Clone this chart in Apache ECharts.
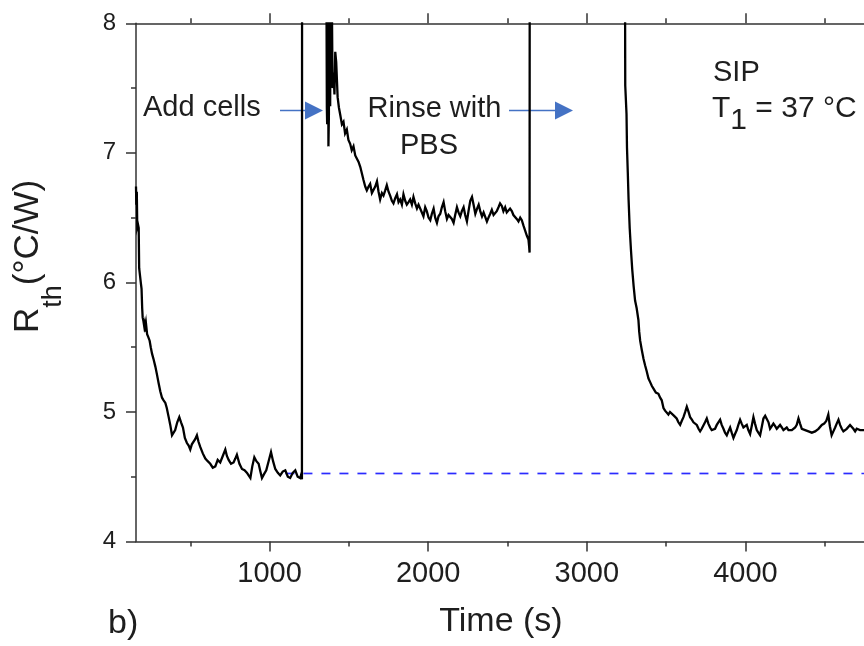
<!DOCTYPE html>
<html><head><meta charset="utf-8">
<script src="https://cdn.jsdelivr.net/npm/echarts@6/dist/echarts.min.js"></script>
<style>html,body{margin:0;padding:0;background:#fff}#c{width:864px;height:646px}</style>
</head><body><div id="c"></div>
<script>
// Time (s) and thermal resistance R_th (°C/W); values above 8 are off the plot (clipped at the top)
const timeS = [
158,160,163,166,170,175,178,183,189,193,197,200,205,210,213,218,222,228,235,244,251,259,268,280,290,301,311,322,332,343,352,364,374,385,395,405,418,431,442,454,466,479,490,500,510,521,531,542,552,563,579,595,610,626,642,658,673,689,705,721,731,742,757,773,784,794,810,826,842,858,868,879,891,904,917,931,942,952,965,979,994,1009,1022,1036,1052,1067,1083,1099,1115,1130,1146,1162,1177,1193,1200,1204,1205,
1356,1361,1363,1367,1371,1374,1378,1382,1386,1395,1397,1403,1409,1414,1420,1425,1429,1437,1446,1456,1466,1476,1487,1497,1508,1518,1529,1540,1551,1561,1572,1582,1592,1603,1613,1624,1634,1645,1655,1666,1677,1687,1697,1708,1718,1729,1739,1750,1760,1771,1781,1792,1803,1813,1823,1834,1844,1855,1865,1876,1886,1897,1907,1918,1929,1939,1950,1960,1970,1981,1991,2002,2013,2023,2034,2044,2055,2065,2076,2086,2097,2107,2118,2128,2139,2149,2160,2170,2181,2191,2202,2212,2223,2233,2244,2254,2265,2276,2286,2297,2308,2318,2328,2339,2349,2359,2370,2380,2391,2401,2412,2422,2432,2443,2453,2464,2474,2485,2495,2506,2516,2527,2537,2548,2558,2569,2580,2590,2600,2611,2622,2632,2636,2639,2640,
3239,3242,3250,3253,3258,3263,3270,3278,3286,3295,3304,3314,3325,3330,3336,3346,3357,3367,3378,3388,3399,3410,3420,3435,3451,3462,3472,3483,3493,3503,3514,3524,3535,3550,3566,3577,3588,3598,3609,3620,3630,3641,3651,3662,3672,3683,3693,3704,3714,3724,3735,3745,3756,3766,3777,3787,3798,3808,3819,3829,3840,3850,3861,3871,3882,3892,3903,3913,3924,3934,3945,3955,3966,3976,3987,3997,4008,4018,4029,4039,4050,4060,4071,4081,4092,4102,4113,4124,4135,4145,4155,4166,4176,4187,4197,4208,4218,4229,4239,4250,4260,4271,4281,4292,4302,4313,4323,4334,4344,4355,4365,4376,4386,4397,4407,4418,4428,4439,4449,4460,4470,4481,4496,4509,4522,4532,4543,4554,4565,4575,4586,4596,4607,4617,4628,4638,4649,4659,4670,4680,4691,4701,4712,4722,4733,4747
];
const rth = [
6.74,6.60,6.70,6.43,6.45,6.42,6.11,6.12,5.99,5.95,5.80,5.73,5.70,5.66,5.68,5.62,5.67,5.60,5.58,5.55,5.50,5.45,5.41,5.35,5.29,5.22,5.16,5.11,5.09,5.07,5.03,4.96,4.90,4.82,4.84,4.86,4.92,4.96,4.92,4.88,4.80,4.76,4.74,4.71,4.75,4.74,4.79,4.82,4.77,4.73,4.68,4.64,4.62,4.60,4.57,4.58,4.63,4.61,4.66,4.71,4.66,4.63,4.60,4.61,4.64,4.67,4.60,4.56,4.55,4.53,4.51,4.49,4.58,4.65,4.62,4.60,4.54,4.49,4.52,4.55,4.62,4.69,4.62,4.56,4.53,4.51,4.54,4.55,4.50,4.49,4.53,4.55,4.50,4.49,4.52,4.48,9.2,
9.2,7.35,7.22,9.2,7.05,7.30,9.2,7.36,9.2,9.2,7.50,7.62,7.45,7.78,7.70,7.55,7.43,7.35,7.29,7.22,7.24,7.15,7.18,7.10,7.07,7.02,7.05,6.98,6.97,6.93,6.89,6.84,6.79,6.74,6.71,6.74,6.76,6.69,6.70,6.74,6.78,6.70,6.64,6.69,6.67,6.71,6.75,6.70,6.67,6.63,6.61,6.65,6.68,6.62,6.64,6.60,6.68,6.63,6.60,6.62,6.64,6.60,6.66,6.61,6.57,6.60,6.61,6.54,6.51,6.58,6.55,6.50,6.48,6.53,6.57,6.50,6.46,6.51,6.53,6.58,6.62,6.55,6.49,6.52,6.53,6.49,6.46,6.52,6.58,6.54,6.51,6.55,6.58,6.52,6.47,6.55,6.63,6.66,6.60,6.53,6.57,6.60,6.55,6.51,6.54,6.53,6.47,6.50,6.53,6.56,6.52,6.51,6.55,6.58,6.61,6.59,6.55,6.58,6.54,6.53,6.57,6.55,6.52,6.51,6.49,6.47,6.50,6.48,6.44,6.40,6.36,6.33,6.28,6.23,9.2,
9.2,7.52,7.30,7.04,6.85,6.64,6.42,6.25,6.10,5.97,5.86,5.80,5.71,5.62,5.55,5.48,5.41,5.36,5.31,5.26,5.23,5.20,5.18,5.15,5.14,5.11,5.09,5.03,5.01,5.02,4.98,5.00,5.01,4.97,4.95,4.92,4.90,4.93,4.96,5.00,5.04,5.00,4.96,4.94,4.92,4.91,4.90,4.87,4.85,4.87,4.87,4.92,4.95,4.91,4.88,4.86,4.85,4.87,4.90,4.92,4.94,4.90,4.87,4.84,4.82,4.85,4.88,4.84,4.80,4.83,4.86,4.90,4.94,4.91,4.88,4.89,4.90,4.86,4.83,4.89,4.96,4.91,4.86,4.84,4.82,4.88,4.95,4.97,4.98,4.92,4.87,4.89,4.91,4.89,4.87,4.88,4.90,4.88,4.86,4.87,4.88,4.86,4.85,4.86,4.87,4.88,4.90,4.95,4.91,4.87,4.88,4.86,4.87,4.85,4.85,4.84,4.83,4.85,4.86,4.87,4.88,4.90,4.91,4.93,4.98,4.89,4.82,4.85,4.88,4.91,4.94,4.90,4.87,4.85,4.86,4.87,4.88,4.90,4.90,4.87,4.85,4.87,4.88,4.86,4.87,4.86
];
// Reference level (blue dashed line)
const baseT = [1100, 4747];
const baseV = [4.525, 4.525];
// Axis ticks
const xMajor = [1000, 2000, 3000, 4000];
const xMinor = [500, 1500, 2500, 3500, 4500];
const xMin = 158, xMax = 4747;
const yMin = 4, yMax = 8;

const FONT = "'Liberation Sans', Arial, sans-serif";
const AX = '#333';
const TXT = '#1e1e1e';

function xAx(pos, ticks, len, line, labels) {
  return {
    type: 'value', position: pos, min: xMin, max: xMax,
    axisLine: { show: line, onZero: false, lineStyle: { color: AX, width: 1.5 } },
    axisTick: { show: true, inside: false, customValues: ticks, length: len, lineStyle: { color: AX, width: 1.5 } },
    axisLabel: labels ? { show: true, customValues: ticks, fontSize: 29, color: TXT, fontFamily: FONT, margin: 18,
      formatter: v => String(v) } : { show: false },
    splitLine: { show: false }
  };
}

const chart = echarts.init(document.getElementById('c'), null, { renderer: 'canvas' });
chart.setOption({
  animation: false,
  backgroundColor: '#fff',
  grid: { left: 136, right: 0, top: 23.3, bottom: 104.5, containLabel: false },
  xAxis: [
    xAx('bottom', xMajor, 10, true, true),
    xAx('bottom', xMinor, 5, false, false),
    xAx('top', xMajor, 10, true, false),
    xAx('top', xMinor, 5, false, false)
  ],
  yAxis: [{
    type: 'value', position: 'left', min: yMin, max: yMax, interval: 1,
    axisLine: { show: true, onZero: false, lineStyle: { color: AX, width: 1.5 } },
    axisTick: { show: true, length: 10, lineStyle: { color: AX, width: 1.5 } },
    minorTick: { show: true, splitNumber: 2, length: 5, lineStyle: { color: AX, width: 1.5 } },
    axisLabel: { fontSize: 24, color: TXT, fontFamily: FONT, margin: 20 },
    splitLine: { show: false }, minorSplitLine: { show: false }
  }],
  series: [
    {
      type: 'line', xAxisIndex: 0, yAxisIndex: 0, symbol: 'none', silent: true,
      data: baseT.map((t, i) => [t, baseV[i]]),
      lineStyle: { color: '#2b2bff', width: 1.7, type: [9, 9] }
    },
    {
      type: 'line', xAxisIndex: 0, yAxisIndex: 0, symbol: 'none', clip: true, silent: true,
      data: timeS.map((t, i) => [t, rth[i]]),
      lineStyle: { color: '#000', width: 2.3, join: 'miter' }
    }
  ],
  graphic: [
    { type: 'text', x: 11, y: 256.5, rotation: Math.PI / 2,
      style: { text: '{a|R}{b|th}{a|(°C/W)}', align: 'center', verticalAlign: 'top', fill: TXT,
        rich: {
          a: { fontSize: 35, fontFamily: FONT, lineHeight: 35, verticalAlign: 'top', fill: TXT },
          b: { fontSize: 27, fontFamily: FONT, lineHeight: 56, verticalAlign: 'bottom', fill: TXT }
        } } },
    { type: 'text', x: 501, y: 622, style: { text: 'Time (s)', font: '34px ' + FONT, fill: TXT, align: 'center', verticalAlign: 'middle' } },
    { type: 'text', x: 108, y: 624, style: { text: 'b)', font: '34px ' + FONT, fill: TXT, align: 'left', verticalAlign: 'middle' } },
    { type: 'text', x: 143, y: 108, style: { text: 'Add cells', font: '29px ' + FONT, fill: TXT, align: 'left', verticalAlign: 'middle' } },
    { type: 'text', x: 434.5, y: 109, style: { text: 'Rinse with', font: '29px ' + FONT, fill: TXT, align: 'center', verticalAlign: 'middle' } },
    { type: 'text', x: 429, y: 145.5, style: { text: 'PBS', font: '29px ' + FONT, fill: TXT, align: 'center', verticalAlign: 'middle' } },
    { type: 'text', x: 713, y: 72.5, style: { text: 'SIP', font: '29px ' + FONT, fill: TXT, align: 'left', verticalAlign: 'middle' } },
    { type: 'text', x: 712, y: 94, style: { text: '{a|T}{b|1}{a| = 37 °C}', align: 'left', verticalAlign: 'top', fill: TXT,
        rich: {
          a: { fontSize: 30, fontFamily: FONT, lineHeight: 30, verticalAlign: 'top', fill: TXT },
          b: { fontSize: 30, fontFamily: FONT, lineHeight: 42, verticalAlign: 'bottom', fill: TXT }
        } } },
    { type: 'line', shape: { x1: 280, y1: 110.5, x2: 307, y2: 110.5 }, style: { stroke: '#4472c4', lineWidth: 1.5 } },
    { type: 'polygon', shape: { points: [[305, 101.5], [323, 110.5], [305, 119.5]] }, style: { fill: '#4472c4' } },
    { type: 'line', shape: { x1: 509, y1: 110.5, x2: 557, y2: 110.5 }, style: { stroke: '#4472c4', lineWidth: 1.5 } },
    { type: 'polygon', shape: { points: [[555, 101.5], [573, 110.5], [555, 119.5]] }, style: { fill: '#4472c4' } }
  ]
});
</script>
</body></html>
